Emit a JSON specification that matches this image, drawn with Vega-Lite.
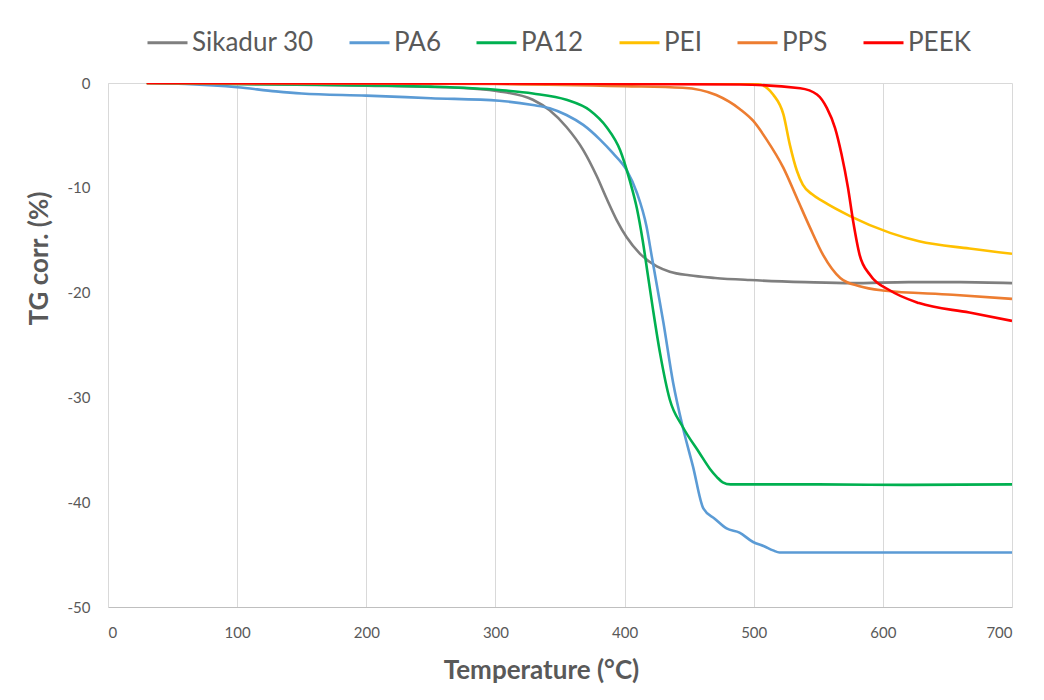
{
  "$schema": "https://vega.github.io/schema/vega-lite/v6.json",
  "width": 904,
  "height": 524,
  "autosize": {"type": "none"},
  "padding": {"left": 108, "top": 83, "right": 32, "bottom": 93},
  "background": "white",
  "config": {
    "view": {"stroke": null},
    "font": "Lato"
  },
  "datasets": {
    "tg": [
      {"m": "Sikadur 30", "t": 30, "v": 0},
      {"m": "Sikadur 30", "t": 100, "v": -0.1},
      {"m": "Sikadur 30", "t": 200, "v": -0.25},
      {"m": "Sikadur 30", "t": 260, "v": -0.4},
      {"m": "Sikadur 30", "t": 303, "v": -0.8},
      {"m": "Sikadur 30", "t": 329, "v": -1.6},
      {"m": "Sikadur 30", "t": 342, "v": -2.6},
      {"m": "Sikadur 30", "t": 355, "v": -4.2},
      {"m": "Sikadur 30", "t": 368, "v": -6.4},
      {"m": "Sikadur 30", "t": 378.5, "v": -8.9},
      {"m": "Sikadur 30", "t": 386, "v": -11.0},
      {"m": "Sikadur 30", "t": 394, "v": -13.1},
      {"m": "Sikadur 30", "t": 401.5, "v": -14.7},
      {"m": "Sikadur 30", "t": 412, "v": -16.3},
      {"m": "Sikadur 30", "t": 425, "v": -17.5},
      {"m": "Sikadur 30", "t": 435, "v": -18.0},
      {"m": "Sikadur 30", "t": 450, "v": -18.35},
      {"m": "Sikadur 30", "t": 470, "v": -18.6},
      {"m": "Sikadur 30", "t": 497, "v": -18.8},
      {"m": "Sikadur 30", "t": 540, "v": -19.0},
      {"m": "Sikadur 30", "t": 576, "v": -19.1},
      {"m": "Sikadur 30", "t": 620, "v": -19.0},
      {"m": "Sikadur 30", "t": 660, "v": -19.0},
      {"m": "Sikadur 30", "t": 700, "v": -19.1},

      {"m": "PA6", "t": 30, "v": 0},
      {"m": "PA6", "t": 60, "v": -0.1},
      {"m": "PA6", "t": 100, "v": -0.4},
      {"m": "PA6", "t": 130, "v": -0.8},
      {"m": "PA6", "t": 150, "v": -1.0},
      {"m": "PA6", "t": 200, "v": -1.2},
      {"m": "PA6", "t": 250, "v": -1.45},
      {"m": "PA6", "t": 303, "v": -1.7},
      {"m": "PA6", "t": 329, "v": -2.1},
      {"m": "PA6", "t": 342, "v": -2.4},
      {"m": "PA6", "t": 355, "v": -3.05},
      {"m": "PA6", "t": 368, "v": -4.0},
      {"m": "PA6", "t": 381, "v": -5.4},
      {"m": "PA6", "t": 391, "v": -6.7},
      {"m": "PA6", "t": 401.5, "v": -8.3},
      {"m": "PA6", "t": 409.6, "v": -10.5},
      {"m": "PA6", "t": 417, "v": -13.7},
      {"m": "PA6", "t": 421, "v": -16.5},
      {"m": "PA6", "t": 425, "v": -19.3},
      {"m": "PA6", "t": 430, "v": -22.8},
      {"m": "PA6", "t": 437.6, "v": -28.6},
      {"m": "PA6", "t": 445, "v": -32.8},
      {"m": "PA6", "t": 453, "v": -36.6},
      {"m": "PA6", "t": 461, "v": -40.6},
      {"m": "PA6", "t": 470, "v": -41.6},
      {"m": "PA6", "t": 479, "v": -42.5},
      {"m": "PA6", "t": 489, "v": -42.9},
      {"m": "PA6", "t": 499.5, "v": -43.8},
      {"m": "PA6", "t": 508, "v": -44.2},
      {"m": "PA6", "t": 515, "v": -44.6},
      {"m": "PA6", "t": 520, "v": -44.8},
      {"m": "PA6", "t": 600, "v": -44.8},
      {"m": "PA6", "t": 700, "v": -44.8},

      {"m": "PA12", "t": 30, "v": 0},
      {"m": "PA12", "t": 150, "v": -0.15},
      {"m": "PA12", "t": 250, "v": -0.35},
      {"m": "PA12", "t": 303, "v": -0.67},
      {"m": "PA12", "t": 329, "v": -1.0},
      {"m": "PA12", "t": 355, "v": -1.6},
      {"m": "PA12", "t": 373, "v": -2.6},
      {"m": "PA12", "t": 386, "v": -4.2},
      {"m": "PA12", "t": 396.5, "v": -6.4},
      {"m": "PA12", "t": 404, "v": -9.3},
      {"m": "PA12", "t": 409.6, "v": -12.0},
      {"m": "PA12", "t": 414, "v": -15.0},
      {"m": "PA12", "t": 418, "v": -18.3},
      {"m": "PA12", "t": 422, "v": -21.6},
      {"m": "PA12", "t": 427.5, "v": -25.8},
      {"m": "PA12", "t": 435, "v": -30.2},
      {"m": "PA12", "t": 445, "v": -32.8},
      {"m": "PA12", "t": 458, "v": -35.3},
      {"m": "PA12", "t": 466, "v": -36.8},
      {"m": "PA12", "t": 471.5, "v": -37.6},
      {"m": "PA12", "t": 476, "v": -38.1},
      {"m": "PA12", "t": 482, "v": -38.3},
      {"m": "PA12", "t": 550, "v": -38.3},
      {"m": "PA12", "t": 620, "v": -38.35},
      {"m": "PA12", "t": 700, "v": -38.3},

      {"m": "PEI", "t": 30, "v": 0},
      {"m": "PEI", "t": 400, "v": 0},
      {"m": "PEI", "t": 489, "v": 0},
      {"m": "PEI", "t": 505, "v": -0.15},
      {"m": "PEI", "t": 515, "v": -1.1},
      {"m": "PEI", "t": 523, "v": -3.0},
      {"m": "PEI", "t": 528, "v": -5.9},
      {"m": "PEI", "t": 533.5, "v": -8.4},
      {"m": "PEI", "t": 538, "v": -9.7},
      {"m": "PEI", "t": 545, "v": -10.6},
      {"m": "PEI", "t": 553.7, "v": -11.3},
      {"m": "PEI", "t": 574.6, "v": -12.7},
      {"m": "PEI", "t": 605.6, "v": -14.3},
      {"m": "PEI", "t": 628, "v": -15.1},
      {"m": "PEI", "t": 667, "v": -15.8},
      {"m": "PEI", "t": 700, "v": -16.3},

      {"m": "PPS", "t": 30, "v": 0},
      {"m": "PPS", "t": 300, "v": -0.1},
      {"m": "PPS", "t": 400, "v": -0.3},
      {"m": "PPS", "t": 445, "v": -0.45},
      {"m": "PPS", "t": 471, "v": -1.15},
      {"m": "PPS", "t": 489.4, "v": -2.5},
      {"m": "PPS", "t": 499.5, "v": -3.6},
      {"m": "PPS", "t": 510, "v": -5.4},
      {"m": "PPS", "t": 523, "v": -8.1},
      {"m": "PPS", "t": 533.5, "v": -11.0},
      {"m": "PPS", "t": 543.6, "v": -13.8},
      {"m": "PPS", "t": 553.7, "v": -16.4},
      {"m": "PPS", "t": 567, "v": -18.6},
      {"m": "PPS", "t": 582, "v": -19.4},
      {"m": "PPS", "t": 600, "v": -19.8},
      {"m": "PPS", "t": 654, "v": -20.2},
      {"m": "PPS", "t": 700, "v": -20.6},

      {"m": "PEEK", "t": 30, "v": 0},
      {"m": "PEEK", "t": 300, "v": -0.05},
      {"m": "PEEK", "t": 400, "v": -0.1},
      {"m": "PEEK", "t": 489, "v": -0.15},
      {"m": "PEEK", "t": 536, "v": -0.5},
      {"m": "PEEK", "t": 549, "v": -1.1},
      {"m": "PEEK", "t": 556.7, "v": -2.4},
      {"m": "PEEK", "t": 563, "v": -4.3},
      {"m": "PEEK", "t": 568, "v": -6.8},
      {"m": "PEEK", "t": 573, "v": -10.0},
      {"m": "PEEK", "t": 577, "v": -13.2},
      {"m": "PEEK", "t": 582, "v": -16.4},
      {"m": "PEEK", "t": 590, "v": -18.3},
      {"m": "PEEK", "t": 605.6, "v": -19.8},
      {"m": "PEEK", "t": 628, "v": -21.0},
      {"m": "PEEK", "t": 667, "v": -21.9},
      {"m": "PEEK", "t": 700, "v": -22.7}
    ]
  },
  "data": {"name": "tg"},
  "mark": {"type": "line", "interpolate": "monotone", "strokeWidth": 2.6, "clip": true},
  "encoding": {
    "x": {
      "field": "t", "type": "quantitative",
      "scale": {"domain": [0, 700], "nice": false, "zero": false},
      "axis": {
        "title": "Temperature (°C)",
        "values": [0, 100, 200, 300, 400, 500, 600, 700],
        "labelExpr": "'' + datum.value",
        "grid": true, "gridColor": "#d9d9d9", "gridWidth": 1,
        "ticks": false,
        "domainColor": "#bfbfbf", "domainWidth": 1.2,
        "labelFont": "Lato", "labelFontSize": 15, "labelColor": "#595959", "labelPadding": 18,
        "titleFont": "Lato", "titleFontSize": 26, "titleFontWeight": "bold", "titleColor": "#595959", "titlePadding": 17,
        "titleX": 433
      }
    },
    "y": {
      "field": "v", "type": "quantitative",
      "scale": {"domain": [-50, 0], "nice": false, "zero": false},
      "axis": {
        "title": "TG corr. (%)",
        "values": [-50, -40, -30, -20, -10, 0],
        "labelExpr": "'' + datum.value",
        "grid": true,
        "gridColor": "#d9d9d9",
        "gridOpacity": {"condition": {"test": "datum.value === 0", "value": 1}, "value": 0},
        "ticks": false,
        "domainColor": "#d9d9d9", "domainWidth": 1,
        "labelFont": "Lato", "labelFontSize": 15, "labelColor": "#595959", "labelPadding": 18,
        "titleFont": "Lato", "titleFontSize": 26, "titleFontWeight": "bold", "titleColor": "#595959", "titlePadding": 15,
        "titleY": 175
      }
    },
    "color": {
      "field": "m", "type": "nominal",
      "sort": ["Sikadur 30", "PA6", "PA12", "PEI", "PPS", "PEEK"],
      "scale": {
        "domain": ["Sikadur 30", "PA6", "PA12", "PEI", "PPS", "PEEK"],
        "range": ["#7f7f7f", "#5b9bd5", "#00b050", "#ffc000", "#ed7d31", "#ff0000"]
      },
      "legend": {
        "title": null,
        "orient": "none",
        "direction": "horizontal",
        "legendX": 38,
        "legendY": -62,
        "symbolType": "stroke",
        "symbolStrokeWidth": 3,
        "symbolSize": 1600,
        "labelFont": "Lato",
        "labelFontSize": 26,
        "labelColor": "#595959",
        "labelOffset": 3,
        "columnPadding": 29
      }
    },
    "order": {"field": "t", "type": "quantitative"}
  }
}
